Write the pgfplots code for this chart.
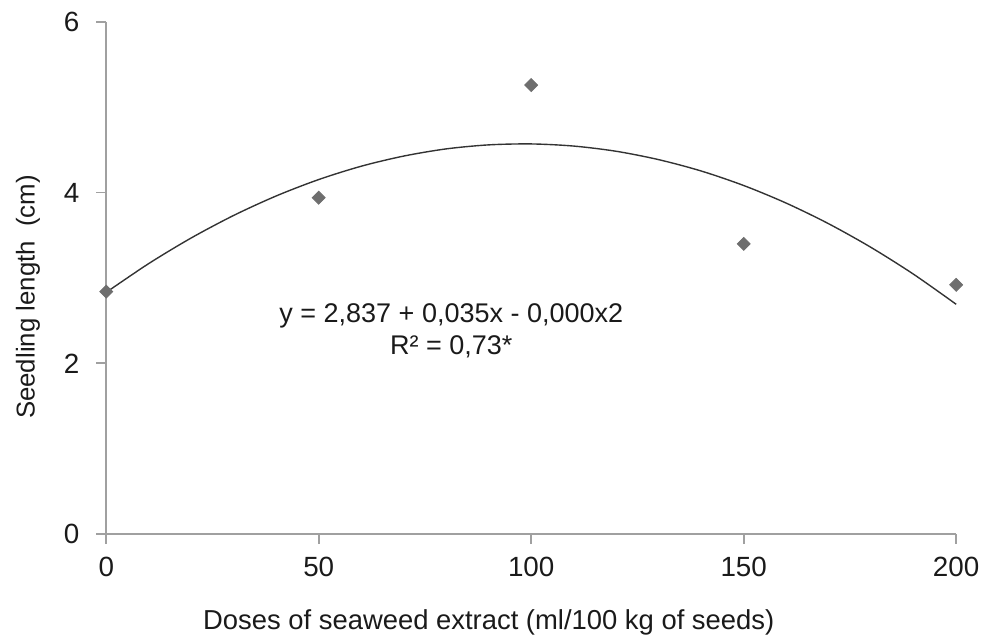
\documentclass[border=0pt]{standalone}
\usepackage{pgfplots}
\pgfplotsset{compat=1.18}
\usepackage{fontspec}
\setmainfont{Liberation Sans}
\definecolor{axgray}{HTML}{A0A0A0}
\definecolor{markgray}{HTML}{6E6E6E}
\definecolor{txt}{HTML}{1A1A1A}

\begin{document}
\begin{tikzpicture}
\begin{axis}[
  scale only axis,
  width=428pt, height=258pt,
  xmin=0, xmax=200, ymin=0, ymax=6,
  axis lines=left,
  axis line style={axgray, line width=0.9pt, -},
  xtick={0,50,100,150,200},
  ytick={0,2,4,6},
  tick style={axgray, line width=0.9pt},
  tick align=outside,
  major tick length=5pt,
  tick label style={font=\fontsize{14}{16}\selectfont, text=txt},
  /pgf/number format/assume math mode=true,
  xticklabel style={yshift=-3pt},
  yticklabel style={xshift=-5pt},
  xlabel={Doses of seaweed extract (ml/100 kg of seeds)},
  ylabel={Seedling length\ \ (cm)},
  label style={text=txt},
  xlabel style={font=\fontsize{13.8}{15}\selectfont, at={(axis description cs:0.45,-0.172)}, anchor=center},
  ylabel style={font=\fontsize{13}{15}\selectfont, at={(axis description cs:-0.092,0.463)}, anchor=center},
  clip=false,
]
% fitted curve
\addplot[smooth, color=black!80, line width=0.7pt] coordinates {
  (0,2.832) (10,3.169) (20,3.469) (30,3.733) (40,3.961) (50,4.153)
  (60,4.309) (70,4.428) (80,4.512) (90,4.559) (100,4.570) (110,4.545)
  (120,4.484) (130,4.386) (140,4.253) (150,4.083) (160,3.877) (170,3.635)
  (180,3.357) (190,3.043) (200,2.692)
};
% observed means
\addplot[only marks, mark=square*, mark size=2.3pt, color=markgray,
  mark options={fill=markgray, draw=markgray, rotate=45}] coordinates {
  (0,2.84) (50,3.94) (100,5.26) (150,3.40) (200,2.92)
};
\node[align=center, font=\fontsize{13.6}{16}\selectfont, text=txt]
  at (axis cs:81.2,2.38) {y = 2,837 + 0,035x - 0,000x2\\R² = 0,73*};
\path[draw=none] (rel axis cs:-0.125,-0.2035) rectangle (rel axis cs:1.0269,1.0426);
\end{axis}
\end{tikzpicture}
\end{document}
